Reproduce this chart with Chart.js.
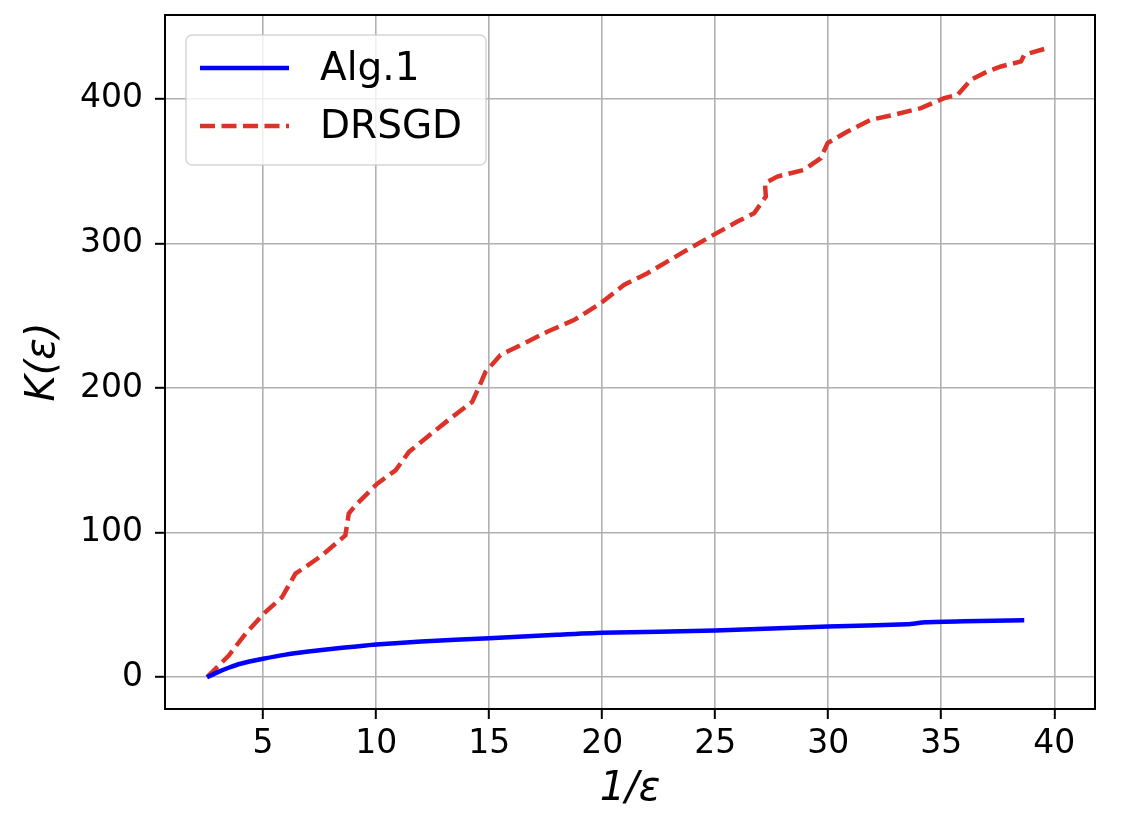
<!DOCTYPE html>
<html lang="en">
<head>
    <meta charset="UTF-8">
    <title>K(eps) vs 1/eps</title>
    <script src="https://cdn.jsdelivr.net/npm/chart.js"></script>
    <style>
        body { margin: 0; background: #fff; }
        canvas { display: block; }
    </style>
</head>
<body>
    <canvas id="kChart" width="1134" height="838"></canvas>

    <script>
        // values
        const alg1X = [2.52, 3.0, 3.5, 4.0, 5.0, 6.0, 7.0, 8.0, 9.0, 10.0, 12.0, 15.0, 18.0, 20.0, 25.0, 30.0, 33.5, 34.3, 36.0, 38.67];
        const alg1Y = [0, 3.5, 6.7, 9.3, 12.7, 15.6, 17.7, 19.5, 21.1, 22.6, 24.7, 26.9, 29.3, 30.7, 32.3, 35.1, 36.6, 38.0, 38.7, 39.3];

        const drsgdX = [2.52, 3.48, 4.22, 5.03, 5.84, 6.43, 6.87, 7.61, 8.64, 8.79, 9.09, 10.05, 10.86, 11.45, 12.63, 13.37, 14.25, 14.55, 14.84,
                        15.5, 16.69, 17.57, 18.75, 19.93, 20.96, 22.0, 23.62, 24.66, 25.98, 26.72, 27.24, 27.2, 27.75, 28.93, 29.67, 29.97,
                        30.85, 31.88, 32.92, 34.1, 35.13, 35.72, 36.31, 37.05, 37.64, 38.53, 38.67, 39.71];
        const drsgdY = [0, 15, 30, 44, 55.4, 71.6, 76.2, 84.3, 98.1, 113.2, 118.9, 133.9, 143.1, 155.8, 170.8, 180, 190.4, 200.8, 211.2,
                        222.8, 232, 238.9, 247, 258.6, 271.3, 279.4, 294.3, 303.6, 315.1, 320.9, 332.4, 341.7, 346.3, 350.9, 359, 369.4,
                        377.4, 385.5, 389, 393.6, 400.5, 402.8, 413.2, 419, 422.4, 425.9, 430.5, 435.2];

        const xTicks = [5, 10, 15, 20, 25, 30, 35, 40];
        const yTicks = [0, 100, 200, 300, 400];

        const seriesNames = ["Alg.1", "DRSGD"];

        function toPoints(xs, ys) {
            return xs.map((x, i) => ({ x: x, y: ys[i] }));
        }

        // matplotlib-like legend inside the axes
        const insideLegend = {
            id: "insideLegend",
            afterDraw(chart) {
                const ctx = chart.ctx;
                const area = chart.chartArea;
                const bx = area.left + 21, by = area.top + 20, bw = 300, bh = 130;
                ctx.save();
                ctx.beginPath();
                ctx.roundRect(bx, by, bw, bh, 6);
                ctx.fillStyle = "rgba(255,255,255,0.8)";
                ctx.fill();
                ctx.strokeStyle = "rgba(204,204,204,0.8)";
                ctx.lineWidth = 1.5;
                ctx.stroke();

                ctx.font = "39px 'DejaVu Sans'";
                ctx.textBaseline = "middle";
                ctx.fillStyle = "#000";
                chart.data.datasets.forEach((ds, i) => {
                    const ly = by + 33 + i * 58;
                    ctx.beginPath();
                    ctx.setLineDash(ds.borderDash || []);
                    ctx.strokeStyle = ds.borderColor;
                    ctx.lineWidth = ds.borderWidth;
                    ctx.moveTo(bx + 14, ly);
                    ctx.lineTo(bx + 103, ly);
                    ctx.stroke();
                    ctx.setLineDash([]);
                    ctx.fillText(ds.label, bx + 134, ly + 2);
                });
                ctx.restore();
            }
        };

        // four spines
        const frame = {
            id: "frame",
            afterDatasetsDraw(chart) {
                const ctx = chart.ctx;
                const a = chart.chartArea;
                ctx.save();
                ctx.strokeStyle = "#000";
                ctx.lineWidth = 2;
                ctx.strokeRect(a.left, a.top, a.right - a.left, a.bottom - a.top);
                ctx.restore();
            }
        };

        const tickFont = { family: "'DejaVu Sans'", size: 33 };

        new Chart(document.getElementById("kChart"), {
            type: "line",
            data: {
                datasets: [{
                    label: seriesNames[0],
                    data: toPoints(alg1X, alg1Y),
                    borderColor: "#0000ff",
                    borderWidth: 4.5,
                    pointRadius: 0,
                    tension: 0.2,
                    fill: false
                }, {
                    label: seriesNames[1],
                    data: toPoints(drsgdX, drsgdY),
                    borderColor: "#dc3228",
                    borderWidth: 4.5,
                    borderDash: [15, 6.5],
                    pointRadius: 0,
                    tension: 0,
                    fill: false
                }]
            },
            options: {
                responsive: false,
                animation: false,
                devicePixelRatio: 1,
                layout: { padding: { top: 15, right: 39, left: 0, bottom: 0 } },
                plugins: {
                    legend: { display: false },
                    tooltip: { enabled: false }
                },
                scales: {
                    x: {
                        type: "linear",
                        min: 0.66,
                        max: 41.8,
                        afterBuildTicks: scale => { scale.ticks = xTicks.map(v => ({ value: v })); },
                        afterFit: scale => {
                            scale.height = 129;
                            scale.paddingLeft = 0;
                            scale.paddingRight = 0;
                        },
                        grid: { color: "#b0b0b0", lineWidth: 1.6, tickLength: 10, tickColor: "#000", tickWidth: 2 },
                        border: { display: false },
                        ticks: { font: tickFont, color: "#000", padding: 6, maxRotation: 0 },
                        title: {
                            display: true,
                            text: "1/ε",
                            font: { family: "'DejaVu Sans'", size: 40, style: "italic" },
                            color: "#000",
                            padding: { bottom: 24 }
                        }
                    },
                    y: {
                        min: -22,
                        max: 458,
                        afterBuildTicks: scale => { scale.ticks = yTicks.map(v => ({ value: v })); },
                        afterFit: scale => {
                            scale.width = 165;
                            scale.paddingTop = 0;
                            scale.paddingBottom = 0;
                        },
                        grid: { color: "#b0b0b0", lineWidth: 1.6, tickLength: 10, tickColor: "#000", tickWidth: 2 },
                        border: { display: false },
                        ticks: { font: tickFont, color: "#000", padding: 12 },
                        title: {
                            display: true,
                            text: "K(ε)",
                            font: { family: "'DejaVu Sans'", size: 40, style: "italic" },
                            color: "#000",
                            padding: { top: 20 }
                        }
                    }
                }
            },
            plugins: [frame, insideLegend]
        });
    </script>
</body>
</html>
